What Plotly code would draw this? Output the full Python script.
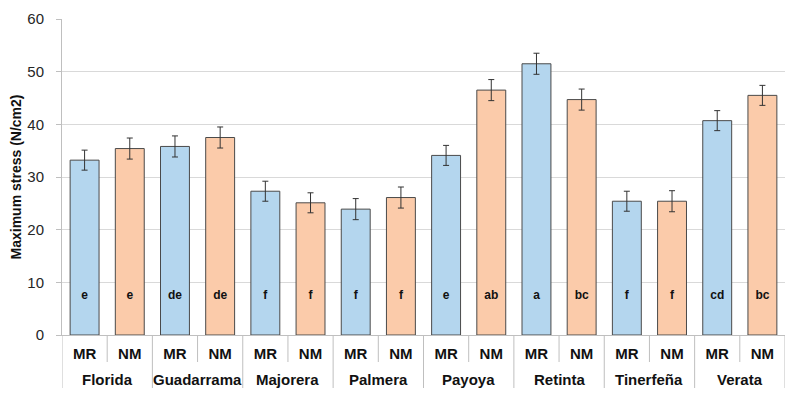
import plotly.graph_objects as go

breeds = ["Florida", "Guadarrama", "Majorera", "Palmera", "Payoya", "Retinta", "Tinerfeña", "Verata"]
treatments = ["MR", "NM"]

mr_values = [33.2, 35.8, 27.3, 23.9, 34.1, 51.5, 25.4, 40.7]
nm_values = [35.4, 37.5, 25.1, 26.1, 46.5, 44.7, 25.4, 45.5]
mr_err = [1.9, 2.0, 1.9, 2.0, 1.9, 2.0, 1.9, 1.9]
nm_err = [2.0, 2.0, 1.9, 2.0, 2.0, 2.0, 2.0, 1.9]
mr_letters = ["e", "de", "f", "f", "e", "a", "f", "cd"]
nm_letters = ["e", "de", "f", "f", "ab", "bc", "f", "bc"]
letter_y = 7.5

# flatten into the 16 bars in plotting order
pos, sub_labels, vals, errs, letters, colors = [], [], [], [], [], []
for i, b in enumerate(breeds):
    for j, t in enumerate(treatments):
        pos.append(2 * i + j)
        sub_labels.append(t)
        if t == "MR":
            vals.append(mr_values[i]); errs.append(mr_err[i]); letters.append(mr_letters[i])
            colors.append("#B4D6EE")
        else:
            vals.append(nm_values[i]); errs.append(nm_err[i]); letters.append(nm_letters[i])
            colors.append("#FBCBAA")

fig = go.Figure()
fig.add_trace(go.Bar(
    x=pos,
    y=vals,
    marker=dict(color=colors, line=dict(color="#4a4a4a", width=1)),
    error_y=dict(type="data", array=errs, color="#333333", thickness=1, width=3),
    showlegend=False,
))
fig.add_trace(go.Scatter(
    x=pos,
    y=[letter_y] * len(vals),
    mode="text",
    text=letters,
    textfont=dict(family="Liberation Sans", size=12, color="#111111", weight="bold"),
    showlegend=False,
    hoverinfo="skip",
))

axis_grey = "#BFBFBF"
# short ticks between MR and NM, long dividers between breeds
for i in range(len(breeds)):
    fig.add_shape(type="line", xref="x", yref="paper", ysizemode="pixel", yanchor=0,
                  x0=2 * i + 0.5, x1=2 * i + 0.5, y0=0, y1=-27,
                  line=dict(color=axis_grey, width=1))
for i in range(len(breeds) + 1):
    fig.add_shape(type="line", xref="x", yref="paper", ysizemode="pixel", yanchor=0,
                  x0=2 * i - 0.5, x1=2 * i - 0.5, y0=0, y1=-53,
                  line=dict(color=axis_grey, width=1))
# breed names under each pair
for i, b in enumerate(breeds):
    fig.add_annotation(x=2 * i + 0.5, xref="x", y=0, yref="paper", yshift=-44,
                       yanchor="middle", text=b, showarrow=False,
                       font=dict(family="Liberation Sans", size=15, color="#111111", weight="bold"))

# page has an 8px body margin, so the figure is sized to fit inside it
fig.update_layout(
    width=781, height=387,
    margin=dict(l=54, r=4, t=11, b=60, autoexpand=False),
    plot_bgcolor="white",
    paper_bgcolor="white",
    bargap=0.36,
    font=dict(family="Liberation Sans", color="#262626"),
)
fig.update_yaxes(
    range=[0, 60], dtick=10,
    showgrid=True, gridcolor="#D9D9D9", gridwidth=1,
    showline=True, linecolor=axis_grey, linewidth=1,
    ticks="outside", ticklen=5, tickcolor=axis_grey,
    tickfont=dict(size=15, color="#262626"),
    ticklabelstandoff=9,
    zeroline=False,
    title=dict(text="Maximum stress (N/cm2)",
               font=dict(size=14, color="#111111", weight="bold"), standoff=4),
    automargin=False,
)
fig.update_xaxes(
    range=[-0.5, len(pos) - 0.5],
    tickvals=pos, ticktext=sub_labels,
    showline=True, linecolor=axis_grey, linewidth=1,
    showgrid=False, zeroline=False, ticks="",
    tickfont=dict(size=15, color="#111111", weight="bold"),
    ticklabelstandoff=5,
    automargin=False,
)

fig.write_html("out.html")
